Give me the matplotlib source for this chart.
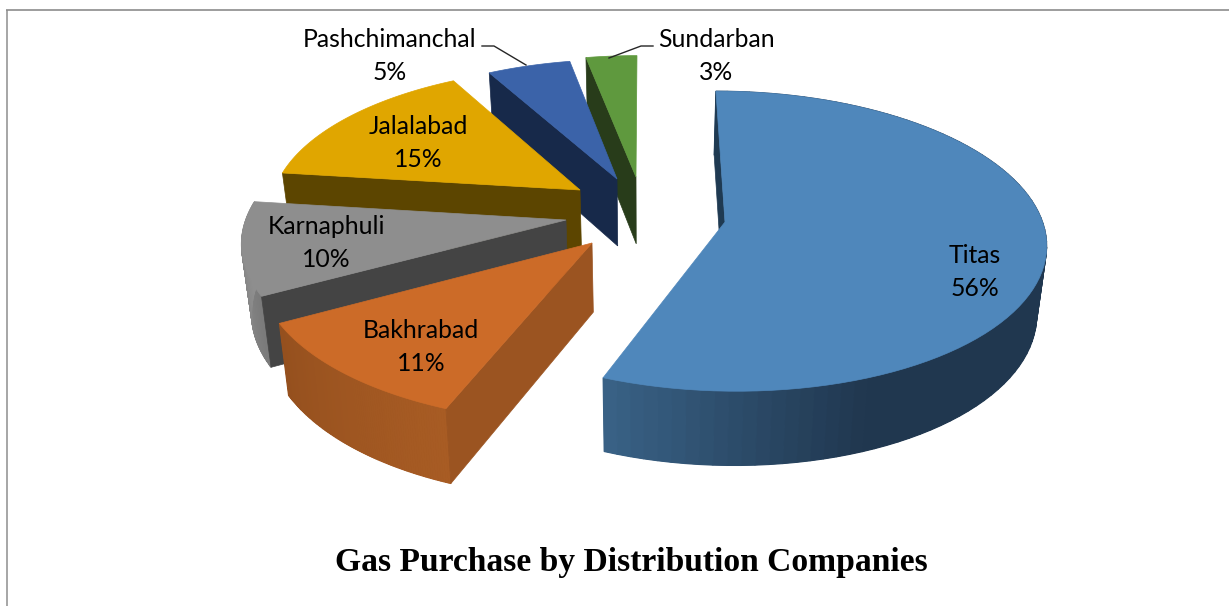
import numpy as np
import matplotlib
matplotlib.use("Agg")
import matplotlib.pyplot as plt
from matplotlib.colors import to_rgb
from matplotlib.patches import Polygon

companies = ["Titas", "Bakhrabad", "Karnaphuli", "Jalalabad", "Pashchimanchal", "Sundarban"]
shares = [56, 11, 10, 15, 5, 3]
title = "Gas Purchase by Distribution Companies"

top_colors = ["#4F87BB", "#CC6B28", "#8E8E8E", "#E0A600", "#3B63A9", "#5F993E"]
cut_colors = ["#1F3A52", "#9B5421", "#444444", "#5C4500", "#17294A", "#283C1A"]
# outer wall shading, light end and dark end
wall_colors = [("#3A6388", "#20374F"), ("#A85C24", "#95501E"), ("#7A7A7A", "#949494")]

# where each exploded slice has its point, and a size tweak
apex_x = [725, 592, 566, 580, 617, 636]
apex_y = [222, 243, 220, 190, 179, 177]
size = [0.97, 0.99, 0.98, 0.96, 0.95, 0.97]
label_x = [975, 421, 326, 418, 390, 716]
label_y = [272, 347, 243, 143, 56, 56]

# projection
cx, cy = 645, 210
R, Ry = 324, 149
k = 0.1305
depth = 68
shrink = 0.975


def project(U, V, low=False):
    s = 1 / (1 - k * V)
    if low:
        return cx + R * U * s * shrink, cy + Ry * V * s * shrink + depth * s
    return cx + R * U * s, cy + Ry * V * s


def to_world(x, y):
    Y = (y - cy) / Ry
    V = Y / (1 + k * Y)
    U = (x - cx) / R * (1 - k * V)
    return U, V


fig = plt.figure(figsize=(12.29, 6.06), dpi=100)
ax = fig.add_axes([0, 0, 1, 1])
ax.set_xlim(0, 1229)
ax.set_ylim(606, 0)
ax.axis("off")

# frame
ax.plot([6.5, 6.5], [606, 10], color="#A6A6A6", lw=1.4, solid_capstyle="butt")
ax.plot([6, 1229], [10, 10], color="#8C8C8C", lw=1.2, solid_capstyle="butt")

edges = np.cumsum([0] + shares) / sum(shares) * 2 * np.pi

# back slices first
for i in range(len(shares) - 1, -1, -1):
    U0, V0 = to_world(apex_x[i], apex_y[i])
    a = np.linspace(edges[i], edges[i + 1], 90)
    U = U0 + size[i] * np.sin(a)
    V = V0 - size[i] * np.cos(a)
    x_top, y_top = project(U, V)
    x_low, y_low = project(U, V, low=True)
    ax_top, ay_top = project(U0, V0)
    ax_low, ay_low = project(U0, V0, low=True)

    # only the front three slices show an outer wall
    if i < len(wall_colors):
        c1 = np.array(to_rgb(wall_colors[i][0]))
        c2 = np.array(to_rgb(wall_colors[i][1]))
        # solid wall underneath so the strips leave no seams
        ax.add_patch(Polygon(np.column_stack([np.r_[x_top, x_low[::-1]], np.r_[y_top, y_low[::-1]]]),
                             closed=True, fc=(c1 + c2) / 2, ec="none"))
        for j in range(len(a) - 1):
            if i == 0:
                t = np.clip((x_top[j] - x_top[-1]) / 270, 0, 1)
            else:
                t = j / (len(a) - 2)
            col = c1 + (c2 - c1) * t
            ax.add_patch(Polygon([(x_top[j], y_top[j]), (x_top[j + 1], y_top[j + 1]),
                                  (x_low[j + 1], y_low[j + 1]), (x_low[j], y_low[j])],
                                 closed=True, fc=col, ec=col, lw=0.8))

    # cut wall on the start edge of the slice
    ax.add_patch(Polygon([(x_top[0], y_top[0]), (ax_top, ay_top), (ax_low, ay_low), (x_low[0], y_low[0])],
                         closed=True, fc=cut_colors[i], ec=cut_colors[i], lw=0.5))

    # top face
    ax.add_patch(Polygon(np.column_stack([np.r_[ax_top, x_top], np.r_[ay_top, y_top]]),
                         closed=True, fc=top_colors[i], ec=top_colors[i], lw=0.5))

# leader lines
ax.plot([482, 494, 526], [46, 46, 65], color="#262626", lw=1.0)
ax.plot([653, 641, 609], [46, 46, 58], color="#262626", lw=1.0)

for name, val, lx, ly in zip(companies, shares, label_x, label_y):
    ax.text(lx, ly, f"{name}\n{val}%", ha="center", va="center", fontsize=17.8,
            family="Lato", color="black", linespacing=1.53)

ax.text(631, 563, title, ha="center", va="center", fontsize=24.2, fontweight="bold",
        family="Liberation Serif", color="black")

fig.savefig("out.png", dpi=100)
